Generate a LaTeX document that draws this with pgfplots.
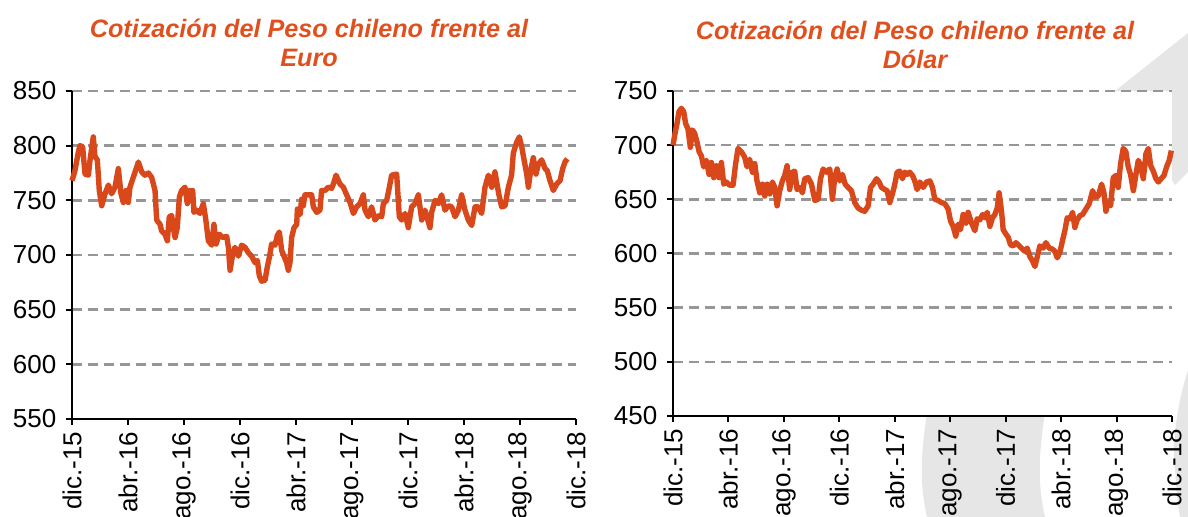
\documentclass[border=0pt]{standalone}
\usepackage{fontspec}
\setmainfont{Liberation Sans}
\usepackage{pgfplots}
\usepackage{pgfplotstable}
\pgfplotsset{compat=1.18}
\definecolor{lineor}{HTML}{D9481B}
\definecolor{titleor}{HTML}{E0501E}
\definecolor{gridg}{HTML}{969696}
\definecolor{swoosh}{HTML}{E6E6E6}

\pgfplotstableread{
m v
0.00 768
0.21 777
0.45 794
0.57 800
0.76 799
0.93 774
1.17 773
1.29 787
1.52 808
1.64 790
1.81 787
1.95 759
2.12 745
2.36 756
2.60 764
2.83 756
3.07 762
3.31 779
3.50 756
3.67 748
3.86 759
4.02 748
4.14 762
4.43 773
4.74 785
4.98 776
5.21 773
5.45 775
5.69 771
5.93 759
6.05 732
6.29 728
6.40 722
6.64 719
6.81 713
6.95 735
7.12 736
7.24 725
7.36 716
7.52 725
7.67 753
7.83 759
8.07 762
8.24 747
8.43 759
8.62 759
8.71 739
8.90 741
9.14 738
9.38 747
9.55 733
9.74 713
9.98 709
10.14 728
10.29 710
10.52 719
10.76 716
11.05 717
11.17 707
11.29 686
11.48 701
11.64 707
11.88 699
12.12 709
12.36 707
12.60 702
12.83 699
13.07 693
13.24 695
13.38 681
13.55 676
13.79 677
13.95 689
14.10 698
14.26 710
14.50 709
14.67 718
14.81 721
14.98 704
15.14 699
15.33 693
15.45 686
15.57 693
15.69 716
15.86 725
16.05 728
16.10 742
16.29 737
16.40 751
16.52 745
16.64 755
16.88 755
17.12 755
17.24 744
17.48 739
17.71 741
17.83 759
18.07 759
18.31 762
18.55 761
18.67 765
18.86 773
19.14 765
19.38 762
19.62 755
19.86 748
20.10 738
20.33 744
20.57 747
20.81 755
20.93 741
21.17 735
21.40 744
21.64 732
21.88 736
22.12 735
22.24 747
22.48 750
22.67 762
22.83 773
23.19 774
23.38 735
23.55 732
23.79 738
24.02 725
24.26 744
24.50 747
24.74 755
24.98 732
25.21 741
25.57 725
25.69 739
25.93 750
26.17 747
26.40 755
26.64 741
26.88 745
27.12 744
27.36 735
27.60 741
27.83 755
28.07 741
28.31 732
28.55 727
28.79 744
29.02 744
29.26 738
29.50 762
29.74 773
29.98 762
30.21 776
30.48 756
30.69 744
30.93 745
31.17 762
31.40 773
31.52 793
31.76 803
31.95 808
32.12 799
32.29 787
32.48 774
32.60 762
32.76 777
32.95 789
33.14 774
33.31 783
33.55 787
33.79 779
33.95 777
34.14 768
34.38 759
34.62 765
34.86 768
35.05 779
35.21 785
35.38 788
}\euro

\pgfplotstableread{
m v
0.00 700
0.12 709
0.29 720
0.43 731
0.60 734
0.77 731
0.91 720
1.08 715
1.25 698
1.40 714
1.56 711
1.73 703
1.88 694
2.05 690
2.21 680
2.41 686
2.60 673
2.77 684
2.94 670
3.13 681
3.32 670
3.49 684
3.66 664
3.85 666
4.09 663
4.33 663
4.52 683
4.69 697
4.93 694
5.17 689
5.34 680
5.53 687
5.73 675
5.90 683
6.06 667
6.26 656
6.45 664
6.62 653
6.79 664
6.98 655
7.17 666
7.34 661
7.51 644
7.70 658
7.89 667
8.06 672
8.23 681
8.42 659
8.61 675
8.78 676
8.95 659
9.14 661
9.34 656
9.50 669
9.75 670
9.99 664
10.23 649
10.47 650
10.64 669
10.83 678
11.07 675
11.31 678
11.50 650
11.67 670
11.84 678
12.03 667
12.22 673
12.42 664
12.63 661
12.87 658
13.11 647
13.35 642
13.59 640
13.84 639
14.08 644
14.25 661
14.44 664
14.68 669
14.87 666
15.04 661
15.28 659
15.45 658
15.64 647
15.83 655
16.00 664
16.17 675
16.36 676
16.55 669
16.72 675
16.89 673
17.08 675
17.28 672
17.44 667
17.61 659
17.81 666
18.05 661
18.29 666
18.53 667
18.72 661
18.89 650
19.13 649
19.37 647
19.61 646
19.85 641
20.02 630
20.21 625
20.40 616
20.57 627
20.74 622
20.93 636
21.13 628
21.29 638
21.54 628
21.78 621
21.94 632
22.14 631
22.33 636
22.50 633
22.67 638
22.86 625
23.05 633
23.22 636
23.39 642
23.53 656
23.70 639
23.82 622
24.01 618
24.18 615
24.35 608
24.54 607
24.74 610
24.98 607
25.22 604
25.39 602
25.55 605
25.75 597
25.94 593
26.11 588
26.28 597
26.47 607
26.71 605
26.90 610
27.14 605
27.38 604
27.55 602
27.72 596
27.91 601
28.10 612
28.27 621
28.44 633
28.63 632
28.83 638
28.99 624
29.16 631
29.36 635
29.55 636
29.79 641
30.03 646
30.27 658
30.44 652
30.68 653
30.92 664
31.09 656
31.23 639
31.40 647
31.57 644
31.76 670
31.95 672
32.12 661
32.29 683
32.48 697
32.67 694
32.84 680
33.01 673
33.21 658
33.40 673
33.57 686
33.73 681
33.93 669
34.12 692
34.29 697
34.46 681
34.65 676
34.84 669
35.01 666
35.28 670
35.42 672
35.61 680
35.80 686
35.95 695
}\dolar

\pgfplotsset{
  mychart/.style={
    scale only axis,
    axis lines=left,
    axis line style={-, black, line width=1pt},
    axis background/.style={fill=white},
    tick align=outside,
    major tick length=2.8pt,
    tick style={black, line width=1pt},
    xmin=0, xmax=36,
    xtick={0,4,...,36},
    xticklabels={dic.-15,abr.-16,ago.-16,dic.-16,abr.-17,ago.-17,dic.-17,abr.-18,ago.-18,dic.-18},
    xticklabel style={rotate=90, anchor=east, font=\fontsize{13}{15}\selectfont},
    yticklabel style={font=\fontsize{13}{15}\selectfont, xshift=-1.5pt},
    /pgf/number format/assume math mode=true,
    /pgf/number format/1000 sep={},
    ymajorgrids,
    grid style={gridg, line width=1.3pt, dash pattern=on 5pt off 3pt},
    clip=false,
  }
}

\begin{document}
\begin{tikzpicture}
\useasboundingbox (0,0) rectangle (594pt,258.5pt);
\begin{scope}
\clip (0,0) rectangle (594pt,258.5pt);
% background swooshes
\fill[swoosh] (594pt,242pt) -- (557.5pt,213pt) -- (587.5pt,166pt) -- (594pt,172.5pt) -- cycle;
\fill[swoosh] (463.5pt,52pt) .. controls (460pt,30pt) and (460pt,15pt) .. (463.5pt,0pt) -- (522.5pt,0pt) .. controls (519pt,15pt) and (519pt,30pt) .. (522.5pt,52pt) -- cycle;
\fill[swoosh] (594pt,73.5pt) .. controls (588pt,55pt) and (586pt,35pt) .. (587.5pt,25pt) .. controls (588pt,15pt) and (589pt,5pt) .. (590pt,0pt) -- (594pt,0pt) -- cycle;

\begin{axis}[mychart,
  at={(36pt,49pt)}, anchor=south west,
  width=252pt, height=164pt,
  ymin=550, ymax=850, ytick={550,600,...,850}]
\addplot[lineor, line width=2.7pt, line join=round] table[x=m, y=v] {\euro};
\end{axis}

\begin{axis}[mychart,
  at={(336.5pt,50.5pt)}, anchor=south west,
  width=249.5pt, height=162.5pt,
  ymin=450, ymax=750, ytick={450,500,...,750}]
\addplot[lineor, line width=2.7pt, line join=round] table[x=m, y=v] {\dolar};
\end{axis}

\node[align=center, text=titleor, font=\fontsize{12.6}{14.5}\selectfont\bfseries\itshape] at (154.5pt,237.25pt) {Cotización del Peso chileno frente al\\Euro};
\node[align=center, text=titleor, font=\fontsize{12.6}{14.5}\selectfont\bfseries\itshape] at (457.5pt,236pt) {Cotización del Peso chileno frente al\\Dólar};
\end{scope}
\end{tikzpicture}
\end{document}
